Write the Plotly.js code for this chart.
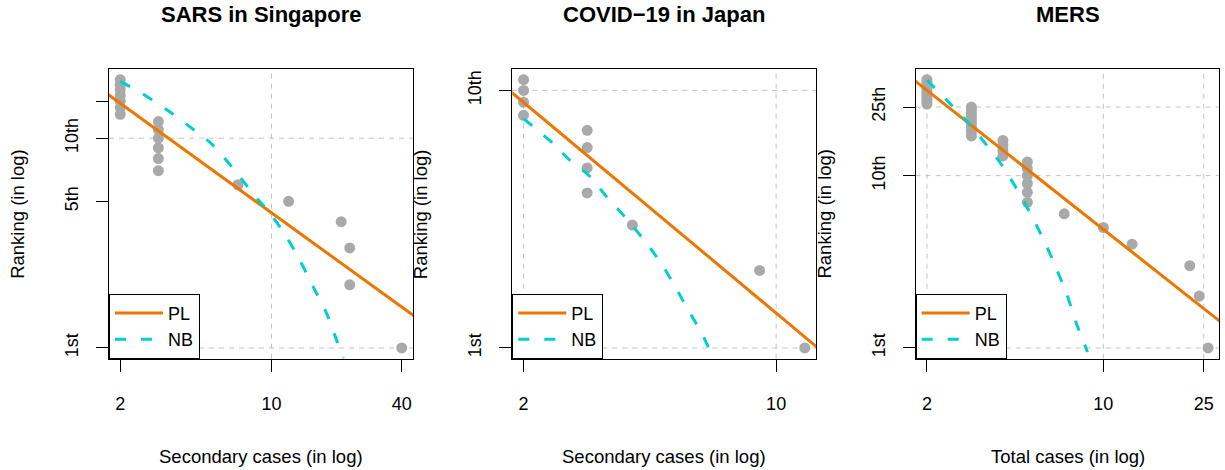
<!DOCTYPE html>
<html>
<head>
<meta charset="utf-8">
<script src="https://cdn.plot.ly/plotly-3.0.1.min.js"></script>
<style>
  html, body { margin: 0; padding: 0; background: #ffffff; }
  #chart { width: 1225px; height: 470px; }
</style>
</head>
<body>
<div id="chart"></div>
<script>
// Observed case counts, largest first; the rank of each is its position (1st = largest)
const sarsCases  = [40, 23, 23, 21, 12, 7, 3, 3, 3, 3, 3, 3, 2, 2, 2, 2, 2, 2, 2];
const covidCases = [12, 9, 4, 3, 3, 3, 3, 2, 2, 2, 2];
const mersCases  = [26, 24, 22, 13, 10, 7, 5, 5, 5, 5, 5, 5, 4, 4, 4, 4,
                    3, 3, 3, 3, 3, 3, 3, 3, 3, 2, 2, 2, 2, 2, 2, 2, 2, 2, 2, 2];

// Fitted power-law (PL) lines, straight on log-log axes
const sarsPLx  = [1.7, 48];     const sarsPLrank  = [16.55, 1.368];
const covidPLx = [1.8, 13.5];   const covidPLrank = [10.17, 0.961];
const mersPLx  = [1.75, 31];    const mersPLrank  = [36.5, 1.32];

// Fitted negative-binomial (NB) curves
const sarsNBx  = [2.0, 2.544, 3.322, 4.186, 5.277, 6.77, 8.22, 10.0, 11.74, 13.52, 15.59, 17.98, 20.0, 21.46];
const sarsNBrank = [18.67, 16.26, 13.54, 11.36, 9.41, 7.02, 5.44, 4.29, 3.38, 2.62, 1.957, 1.462, 1.09, 0.893];
const covidNBx = [2.0, 2.42, 2.69, 3.03, 3.40, 3.82, 4.39, 4.88, 5.26, 5.72, 6.23, 6.71];
const covidNBrank = [7.77, 6.21, 5.35, 4.68, 3.855, 3.22, 2.54, 2.06, 1.725, 1.40, 1.137, 0.91];
const mersNBx  = [2.0, 2.48, 2.93, 3.38, 3.98, 4.70, 5.23, 5.82, 6.48, 7.15, 7.83, 8.66];
const mersNBrank = [35.9, 26.0, 20.1, 15.6, 11.4, 7.66, 5.73, 4.20, 2.94, 2.065, 1.384, 0.948];

// Panel texts and axis ticks
const panelTitles = ["SARS in Singapore", "COVID\u221219 in Japan", "MERS"];
const xTitles = ["Secondary cases (in log)", "Secondary cases (in log)", "Total cases (in log)"];
const yTitle = "Ranking (in log)";
const xTicks = [[2, 10, 40], [2, 10], [2, 10, 25]];
const yTicks = [[1, 5, 10, 15], [1, 10], [1, 10, 25]];
const yTickText = [["1st", "5th", "10th", ""], ["1st", "10th"], ["1st", "10th", "25th"]];
// Dashed reference lines
const xGrid = [[10], [2, 10], [2, 10, 25]];
const yGrid = [[1, 10], [1, 10], [1, 10, 25]];

const FONT = "Liberation Sans, Arial, Helvetica, sans-serif";
const POINT_COLOR = "#A9A9A9";
const PL_COLOR = "#EE7600";
const NB_COLOR = "#00CED1";
const W = 1225, H = 470;

// Plot boxes in pixels: [left, right]; shared top/bottom
const boxes = [[109, 413], [512.3, 816], [915.7, 1219.3]];
const boxTop = 69, boxBottom = 358.7;

const panels = [
  { cases: sarsCases,  plx: sarsPLx,  plr: sarsPLrank,  nbx: sarsNBx,  nbr: sarsNBrank },
  { cases: covidCases, plx: covidPLx, plr: covidPLrank, nbx: covidNBx, nbr: covidNBrank },
  { cases: mersCases,  plx: mersPLx,  plr: mersPLrank,  nbx: mersNBx,  nbr: mersNBrank }
];

const traces = [];
const layout = {
  width: W, height: H,
  margin: { l: 0, r: 0, t: 0, b: 0 },
  paper_bgcolor: "#ffffff",
  plot_bgcolor: "#ffffff",
  font: { family: FONT, size: 18, color: "#000000" },
  showlegend: true,
  shapes: [],
  annotations: []
};

// Log-axis range padded by 4% of the data span on each side
function paddedLogRange(lo, hi) {
  const a = Math.log10(lo), b = Math.log10(hi), pad = 0.04 * (b - a);
  return [a - pad, b + pad];
}

panels.forEach((p, i) => {
  const n = i + 1;
  const xa = n === 1 ? "x" : "x" + n;
  const ya = n === 1 ? "y" : "y" + n;
  const legendId = n === 1 ? "legend" : "legend" + n;
  const ranks = p.cases.map((_, k) => k + 1);

  traces.push({
    type: "scatter", mode: "markers", x: p.cases, y: ranks,
    xaxis: xa, yaxis: ya, showlegend: false, hoverinfo: "skip",
    marker: { color: POINT_COLOR, size: 11 }
  });
  traces.push({
    type: "scatter", mode: "lines", x: p.plx, y: p.plr, name: "PL",
    xaxis: xa, yaxis: ya, legend: legendId,
    line: { color: PL_COLOR, width: 3 }
  });
  traces.push({
    type: "scatter", mode: "lines", x: p.nbx, y: p.nbr, name: "NB",
    xaxis: xa, yaxis: ya, legend: legendId,
    line: { color: NB_COLOR, width: 3, dash: "11px,15px", shape: "spline", smoothing: 0.8 }
  });

  const [left, right] = boxes[i];
  const axisCommon = {
    type: "log", showgrid: false, zeroline: false,
    showline: true, mirror: true, linecolor: "#000000", linewidth: 1,
    ticks: "outside", ticklen: 12, tickwidth: 1, tickcolor: "#000000",
    tickmode: "array", fixedrange: true,
    tickfont: { family: FONT, size: 18, color: "#000000" }
  };
  layout[n === 1 ? "xaxis" : "xaxis" + n] = Object.assign({}, axisCommon, {
    domain: [left / W, right / W], anchor: ya,
    range: paddedLogRange(Math.min(...p.cases), Math.max(...p.cases)),
    tickvals: xTicks[i], ticktext: xTicks[i].map(String),
    ticklabelstandoff: 17
  });
  layout[n === 1 ? "yaxis" : "yaxis" + n] = Object.assign({}, axisCommon, {
    domain: [1 - boxBottom / H, 1 - boxTop / H], anchor: xa,
    range: paddedLogRange(1, p.cases.length),
    tickvals: yTicks[i], ticktext: yTickText[i],
    tickangle: -90, ticklabelstandoff: 11
  });

  xGrid[i].forEach(v => layout.shapes.push({
    type: "line", layer: "below", xref: xa, yref: ya + " domain",
    x0: v, x1: v, y0: 0, y1: 1,
    line: { color: "#C4C4C4", width: 1, dash: "5px,5px" }
  }));
  yGrid[i].forEach(v => layout.shapes.push({
    type: "line", layer: "below", xref: xa + " domain", yref: ya,
    x0: 0, x1: 1, y0: v, y1: v,
    line: { color: "#C4C4C4", width: 1, dash: "5px,5px" }
  }));

  layout[legendId] = {
    xref: "paper", yref: "paper",
    x: left / W, y: 1 - boxBottom / H, xanchor: "left", yanchor: "bottom",
    bgcolor: "#ffffff", bordercolor: "#000000", borderwidth: 1,
    font: { family: FONT, size: 18, color: "#000000" },
    itemwidth: 48,
    tracegroupgap: 0, itemclick: false, itemdoubleclick: false
  };

  const cx = (left + right) / 2 / W;
  layout.annotations.push({
    text: panelTitles[i], xref: "paper", yref: "paper",
    x: cx, y: 1 - 15 / H, xanchor: "center", yanchor: "middle", showarrow: false,
    font: { family: FONT, size: 22, weight: 700, color: "#000000" }
  });
  layout.annotations.push({
    text: xTitles[i], xref: "paper", yref: "paper",
    x: cx, y: 1 - 456 / H, xanchor: "center", yanchor: "middle", showarrow: false,
    font: { family: FONT, size: 18.5, color: "#000000" }
  });
  layout.annotations.push({
    text: yTitle, xref: "paper", yref: "paper", textangle: -90,
    x: (left - 91) / W, y: 1 - ((boxTop + boxBottom) / 2) / H,
    xanchor: "center", yanchor: "middle", showarrow: false,
    font: { family: FONT, size: 18.5, color: "#000000" }
  });
});

Plotly.newPlot("chart", traces, layout, { displayModeBar: false, staticPlot: true });
</script>
</body>
</html>
